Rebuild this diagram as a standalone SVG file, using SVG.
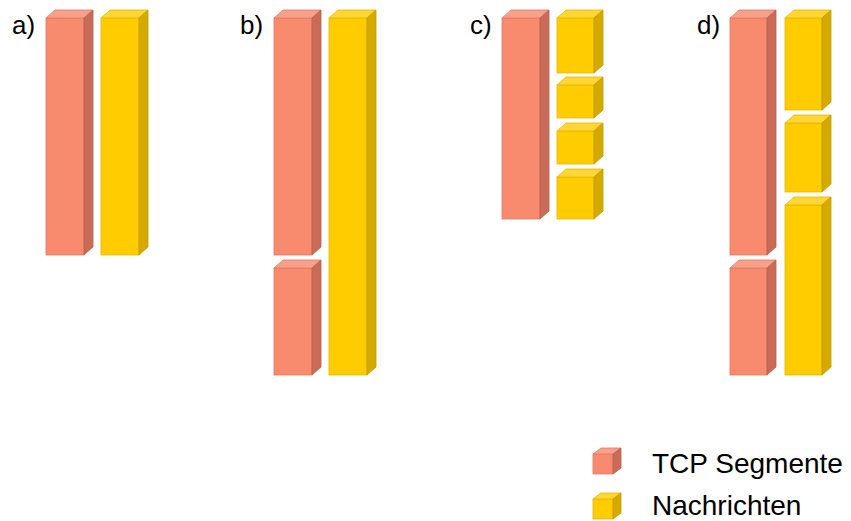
<svg xmlns="http://www.w3.org/2000/svg" width="851" height="521" viewBox="0 0 851 521">
  <style>
    .lbl { font-family: "Liberation Sans", Arial, sans-serif; font-size: 26px; fill: #000; }
    .leg { font-family: "Liberation Sans", Arial, sans-serif; font-size: 28px; fill: #000; }
    .rf { fill: #F88A6D; stroke: #E07A62; stroke-width: 0.8; }
    .rt { fill: #F9A08A; stroke: #E07A62; stroke-width: 0.8; }
    .rs { fill: #C96B56; stroke: #B86250; stroke-width: 0.8; }
    .yf { fill: #FFCC00; stroke: #E6B800; stroke-width: 0.8; }
    .yt { fill: #FFD633; stroke: #E6B800; stroke-width: 0.8; }
    .ys { fill: #D4A900; stroke: #C49C00; stroke-width: 0.8; }
  </style>

  <!-- each block: front face, top face, side face (depth 9 right, 8 up) -->

  <!-- a) -->
  <text class="lbl" x="12" y="34">a)</text>
  <g id="a-segment">
    <rect class="rf" x="46" y="18" width="38" height="237"/>
    <polygon class="rt" points="46,18 55,10 93,10 84,18"/>
    <polygon class="rs" points="84,18 93,10 93,247 84,255"/>
  </g>
  <g id="a-message">
    <rect class="yf" x="101" y="18" width="38" height="237"/>
    <polygon class="yt" points="101,18 110,10 148,10 139,18"/>
    <polygon class="ys" points="139,18 148,10 148,247 139,255"/>
  </g>

  <!-- b) -->
  <text class="lbl" x="240" y="34">b)</text>
  <g id="b-segment-1">
    <rect class="rf" x="274" y="18" width="38" height="237"/>
    <polygon class="rt" points="274,18 283,10 321,10 312,18"/>
    <polygon class="rs" points="312,18 321,10 321,247 312,255"/>
  </g>
  <g id="b-segment-2">
    <rect class="rf" x="274" y="268" width="38" height="107"/>
    <polygon class="rt" points="274,268 283,260 321,260 312,268"/>
    <polygon class="rs" points="312,268 321,260 321,367 312,375"/>
  </g>
  <g id="b-message">
    <rect class="yf" x="329" y="18" width="38" height="357"/>
    <polygon class="yt" points="329,18 338,10 376,10 367,18"/>
    <polygon class="ys" points="367,18 376,10 376,367 367,375"/>
  </g>

  <!-- c) -->
  <text class="lbl" x="470" y="34">c)</text>
  <g id="c-segment">
    <rect class="rf" x="502" y="18" width="38" height="201"/>
    <polygon class="rt" points="502,18 511,10 549,10 540,18"/>
    <polygon class="rs" points="540,18 549,10 549,211 540,219"/>
  </g>
  <g id="c-message-1">
    <rect class="yf" x="557" y="18" width="37" height="55"/>
    <polygon class="yt" points="557,18 566,10 603,10 594,18"/>
    <polygon class="ys" points="594,18 603,10 603,65 594,73"/>
  </g>
  <g id="c-message-2">
    <rect class="yf" x="557" y="85" width="37" height="33"/>
    <polygon class="yt" points="557,85 566,77 603,77 594,85"/>
    <polygon class="ys" points="594,85 603,77 603,110 594,118"/>
  </g>
  <g id="c-message-3">
    <rect class="yf" x="557" y="131" width="37" height="33"/>
    <polygon class="yt" points="557,131 566,123 603,123 594,131"/>
    <polygon class="ys" points="594,131 603,123 603,156 594,164"/>
  </g>
  <g id="c-message-4">
    <rect class="yf" x="557" y="177" width="37" height="42"/>
    <polygon class="yt" points="557,177 566,169 603,169 594,177"/>
    <polygon class="ys" points="594,177 603,169 603,211 594,219"/>
  </g>

  <!-- d) -->
  <text class="lbl" x="697" y="34">d)</text>
  <g id="d-segment-1">
    <rect class="rf" x="730" y="18" width="37" height="237"/>
    <polygon class="rt" points="730,18 739,10 776,10 767,18"/>
    <polygon class="rs" points="767,18 776,10 776,247 767,255"/>
  </g>
  <g id="d-segment-2">
    <rect class="rf" x="730" y="268" width="37" height="107"/>
    <polygon class="rt" points="730,268 739,260 776,260 767,268"/>
    <polygon class="rs" points="767,268 776,260 776,367 767,375"/>
  </g>
  <g id="d-message-1">
    <rect class="yf" x="785" y="18" width="37" height="92"/>
    <polygon class="yt" points="785,18 794,10 831,10 822,18"/>
    <polygon class="ys" points="822,18 831,10 831,102 822,110"/>
  </g>
  <g id="d-message-2">
    <rect class="yf" x="785" y="123" width="37" height="69"/>
    <polygon class="yt" points="785,123 794,115 831,115 822,123"/>
    <polygon class="ys" points="822,123 831,115 831,184 822,192"/>
  </g>
  <g id="d-message-3">
    <rect class="yf" x="785" y="205" width="37" height="170"/>
    <polygon class="yt" points="785,205 794,197 831,197 822,205"/>
    <polygon class="ys" points="822,205 831,197 831,367 822,375"/>
  </g>

  <!-- legend -->
  <g id="legend-segment">
    <rect class="rf" x="593" y="454" width="20" height="20"/>
    <polygon class="rt" points="593,454 601,448 621,448 613,454"/>
    <polygon class="rs" points="613,454 621,448 621,468 613,474"/>
    <text class="leg" x="652" y="473">TCP Segmente</text>
  </g>
  <g id="legend-message">
    <rect class="yf" x="593" y="499" width="20" height="20"/>
    <polygon class="yt" points="593,499 601,493 621,493 613,499"/>
    <polygon class="ys" points="613,499 621,493 621,513 613,519"/>
    <text class="leg" x="652" y="515">Nachrichten</text>
  </g>
</svg>
